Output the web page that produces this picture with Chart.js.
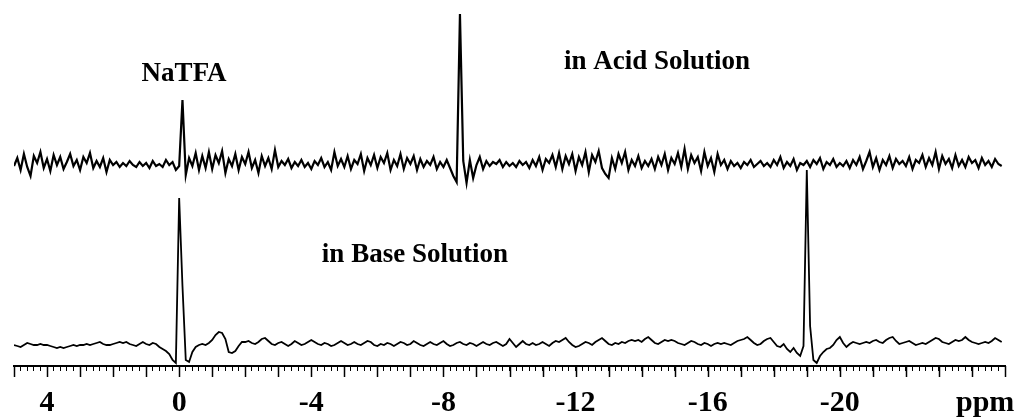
<!DOCTYPE html>
<html>
<head>
<meta charset="utf-8">
<script src="https://cdn.jsdelivr.net/npm/chart.js@4/dist/chart.umd.min.js"></script>
<style>
  html, body { margin: 0; padding: 0; background: #ffffff; overflow: hidden; }
  #wrap { width: 1019px; height: 418px; position: relative; }
</style>
</head>
<body>
<div id="wrap"><canvas id="c"></canvas></div>
<script>
// ---- sampling grid (ppm) ----
const ppmStart = 5.0;
const ppmStep = -0.1;

// ---- axis ----
const axisMin = -25;
const axisMax = 5;
const labelledTicks = [4, 0, -4, -8, -12, -16, -20];
const unitLabel = 'ppm';
const unitLabelAt = -24.4;

// ---- spectrum in acid solution (upper trace, offset intensity) ----
const acidSolution = [
  200,208,196,212,199,190,210,203,214,198,
  207,195,211,201,209,197,204,212,200,206,
  196,209,203,213,198,205,199,208,194,206,
  201,204,199,203,200,205,201,199,204,200,
  203,198,205,200,202,199,206,201,204,196,
  200,266,191,208,200,213,196,210,198,214,
  197,211,203,215,193,207,200,212,196,209,
  202,214,198,206,193,210,200,208,197,216,
  199,205,201,207,198,204,200,206,199,203,
  197,205,201,208,199,204,196,214,200,207,
  199,210,197,206,202,212,195,208,201,211,
  198,209,203,213,196,206,200,212,197,208,
  202,210,196,207,199,205,201,209,197,204,
  199,206,198,190,184,352,205,183,206,188,
  201,209,197,205,200,204,202,206,199,204,
  200,203,199,205,201,204,198,206,200,209,
  196,207,203,211,199,213,197,210,202,212,
  195,209,201,214,194,211,204,215,198,192,
  188,208,197,212,203,214,196,206,200,210,
  198,205,200,207,197,209,201,212,196,208,
  202,213,199,217,197,211,203,209,195,214,
  200,208,194,212,201,206,197,205,200,203,
  198,204,201,206,199,202,205,200,203,199,
  206,201,209,198,204,200,207,196,203,201,
  205,199,206,202,208,197,204,201,207,199,
  203,200,205,198,206,201,209,197,205,214,
  199,208,196,206,201,210,198,207,202,205,
  200,209,197,206,203,211,199,208,201,214,
  197,210,202,207,198,211,200,206,199,209,
  203,206,198,208,201,205,199,207,202,200
];

// ---- spectrum in base solution (lower trace) ----
const baseSolution = [
  21,20,19,21,23,22,21,21,22,21,
  21,20,19,18,19,18,19,20,21,20,
  21,21,22,21,22,23,24,22,21,21,
  22,23,24,23,24,22,21,20,22,24,
  22,21,23,22,19,17,15,12,6,3,
  168,80,6,4,14,19,21,22,21,23,
  26,31,34,33,27,14,13,15,20,24,
  24,25,23,22,24,27,28,25,22,21,
  23,24,22,20,22,25,23,21,22,24,
  26,24,22,21,23,22,20,21,23,25,
  23,21,22,24,22,21,23,25,24,21,
  20,22,21,23,22,20,22,24,23,21,
  22,25,23,21,20,22,24,22,21,23,
  25,22,20,21,23,24,22,21,23,22,
  20,22,24,22,21,23,24,22,20,22,
  27,23,19,22,25,22,21,23,21,22,
  24,22,20,23,25,24,26,28,24,21,
  19,20,22,24,23,21,24,26,28,25,
  22,21,23,22,24,23,25,26,25,26,
  24,27,29,26,23,22,24,26,25,26,
  25,23,22,21,23,25,24,22,21,23,
  22,20,22,23,22,23,22,21,23,25,
  26,27,29,26,23,21,22,25,27,28,
  24,20,19,22,17,14,18,13,10,20,
  196,40,6,3,10,14,17,18,21,26,
  29,23,19,22,24,23,22,23,24,23,
  25,26,24,23,26,28,29,25,22,23,
  24,25,23,21,22,23,22,24,26,28,
  27,24,23,22,24,26,25,26,29,26,
  24,23,22,23,24,23,25,28,26,24
];

// ---- annotations (text, ppm, intensity) ----
const noteTexts = ['NaTFA', 'in Acid Solution', 'in Base Solution'];
const notePpm = [-0.15, -11.65, -4.32];
const noteLevel = [292, 304, 111];
const noteAlign = ['center', 'left', 'left'];

const ppmGrid = acidSolution.map((_, i) => Math.round((ppmStart + i * ppmStep) * 10) / 10);

const serif = '"Liberation Serif", "Times New Roman", serif';

const notesPlugin = {
  id: 'notes',
  afterDatasetsDraw(chart) {
    const { ctx, scales } = chart;
    const xs = scales.x, ys = scales.y;
    ctx.save();
    ctx.fillStyle = '#000';
    ctx.font = 'bold 27px ' + serif;
    ctx.textBaseline = 'middle';
    noteTexts.forEach((t, i) => {
      ctx.textAlign = noteAlign[i];
      ctx.fillText(t, xs.getPixelForValue(notePpm[i]), ys.getPixelForValue(noteLevel[i]));
    });
    // longer tick marks at whole ppm
    ctx.strokeStyle = '#000';
    ctx.lineWidth = 1.5;
    xs.ticks.forEach(tk => {
      const v = tk.value;
      if (Math.abs(v - Math.round(v)) < 1e-9) {
        const px = Math.round(xs.getPixelForValue(v)) + 0.5;
        ctx.beginPath();
        ctx.moveTo(px, xs.top);
        ctx.lineTo(px, xs.top + 11);
        ctx.stroke();
      }
    });
    ctx.restore();
  }
};

new Chart(document.getElementById('c'), {
  type: 'line',
  data: {
    datasets: [
      {
        label: 'in Acid Solution',
        data: ppmGrid.map((x, i) => ({ x, y: acidSolution[i] })),
        borderColor: '#000',
        borderWidth: 2.2,
        pointRadius: 0,
        tension: 0,
        fill: false
      },
      {
        label: 'in Base Solution',
        data: ppmGrid.map((x, i) => ({ x, y: baseSolution[i] })),
        borderColor: '#000',
        borderWidth: 1.8,
        pointRadius: 0,
        tension: 0,
        fill: false
      }
    ]
  },
  options: {
    responsive: true,
    maintainAspectRatio: false,
    animation: false,
    layout: { padding: { left: 13, right: 12, top: 0, bottom: -17 } },
    plugins: { legend: { display: false }, tooltip: { enabled: false }, title: { display: false } },
    scales: {
      x: {
        type: 'linear',
        reverse: true,
        min: axisMin,
        max: axisMax,
        border: { display: true, color: '#000', width: 2 },
        grid: { display: true, drawOnChartArea: false, drawTicks: true, tickLength: 5, color: '#000', lineWidth: 1 },
        ticks: {
          stepSize: 0.2,
          autoSkip: false,
          maxRotation: 0,
          minRotation: 0,
          padding: 14,
          color: '#000',
          font: { family: serif, size: 30, weight: 'bold' },
          callback: (v) => {
            if (Math.abs(v - unitLabelAt) < 1e-6) return unitLabel;
            const r = Math.round(v);
            if (Math.abs(v - r) < 1e-6 && labelledTicks.includes(r)) return String(r);
            return '';
          }
        }
      },
      y: {
        display: false,
        min: 0,
        max: 366
      }
    }
  },
  plugins: [notesPlugin]
});
</script>
</body>
</html>
